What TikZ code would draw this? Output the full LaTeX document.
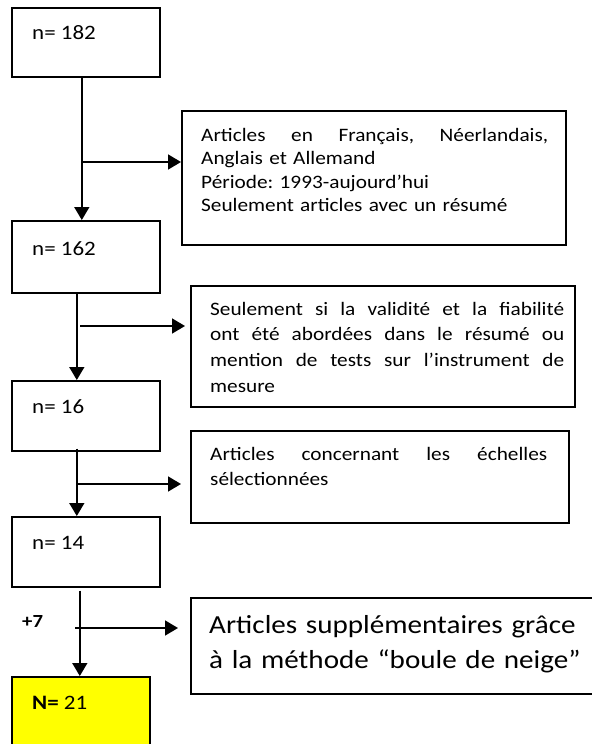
\documentclass[tikz,border=0pt]{standalone}
\usepackage{fontspec}
\setmainfont{Carlito}[FakeStretch=1.12]
\usepackage{tikz}
\usetikzlibrary{arrows.meta}
\definecolor{boxyellow}{RGB}{255,255,0}
\newcommand{\fullline}[2]{\makebox[#1][l]{#2}}
\frenchspacing

\begin{document}
\begin{tikzpicture}[x=1bp, y=-1bp,
    numbox/.style={draw, line width=1.6bp, anchor=north west, inner sep=0pt},
    exclbox/.style={draw, line width=1.6bp, anchor=north west, inner sep=0pt},
    numtxt/.style={anchor=base west, inner sep=0pt, font=\fontsize{20.5bp}{24bp}\selectfont},
    excltxt/.style={anchor=base west, inner sep=0pt, font=\fontsize{19bp}{23.5bp}\selectfont},
    flow/.style={line width=1.6bp, -{Triangle[length=13bp,width=15bp]}}]
    \useasboundingbox (0,0) rectangle (592,744);
    \clip (0,0) rectangle (592,744);

    % counts on the left
    \node[numbox, minimum width=148bp, minimum height=69bp] (n182) at (11,7) {};
    \node[numbox, minimum width=148bp, minimum height=72bp] (n162) at (11,220) {};
    \node[numbox, minimum width=148bp, minimum height=70bp] (n16) at (11,380) {};
    \node[numbox, minimum width=148bp, minimum height=70bp] (n14) at (11,516) {};
    \node[numbox, fill=boxyellow, minimum width=138bp, minimum height=90bp] (n21) at (11,676) {};

    \node[numtxt] (t182) at (32,40) {n= 182};
    \node[numtxt] (t162) at (32,255) {n= 162};
    \node[numtxt] (t16) at (32,413) {n= 16};
    \node[numtxt] (t14) at (32,549) {n= 14};
    \node[numtxt] (t21) at (32,709) {\textbf{N=} 21};
    \node[numtxt, font=\fontsize{18.5bp}{22bp}\selectfont\bfseries] (plus7) at (22,627) {+7};

    % criteria on the right
    \node[exclbox, minimum width=384bp, minimum height=134bp] (ex1) at (181,110) {};
    \node[exclbox, minimum width=384bp, minimum height=121bp] (ex2) at (190,285) {};
    \node[exclbox, minimum width=378bp, minimum height=92bp] (ex3) at (190,430) {};
    \node[exclbox, minimum width=415bp, minimum height=96bp] (ex4) at (190,597) {};

    \node[excltxt, text width=347bp] (tx1) at (201,141)
        {\fullline{347bp}{Articles\hfill en\hfill Français,\hfill Néerlandais,}\\
         Anglais et Allemand\\
         Période: 1993-aujourd’hui\\
         Seulement articles avec un résumé};
    \node[excltxt, text width=354bp, font=\fontsize{19bp}{25.7bp}\selectfont] (tx2) at (210,315)
        {\fullline{354bp}{Seulement\hfill si\hfill la\hfill validité\hfill et\hfill la\hfill fiabilité}\\
         \fullline{354bp}{ont\hfill été\hfill abordées\hfill dans\hfill le\hfill résumé\hfill ou}\\
         \fullline{354bp}{mention\hfill de\hfill tests\hfill sur\hfill l’instrument\hfill de}\\
         mesure};
    \node[excltxt, text width=337bp, font=\fontsize{19bp}{25bp}\selectfont] (tx3) at (210,460)
        {\fullline{337bp}{Articles\hfill concernant\hfill les\hfill échelles}\\
         sélectionnées};
    \node[excltxt, text width=380bp, align=left, font=\fontsize{26bp}{35bp}\selectfont] (tx4) at (209,633)
        {Articles supplémentaires grâce\\
         à la méthode “boule de neige”};

    % arrows down
    \draw[flow] ([xshift=-4bp]n182.south) -- ([xshift=-4bp]n162.north);
    \draw[flow] ([xshift=-9bp]n162.south) -- ([xshift=-9bp]n16.north);
    \draw[flow] ([xshift=-9bp,yshift=3bp]n16.south) -- ([xshift=-9bp]n14.north);
    \draw[flow] ([xshift=-6bp,yshift=-3bp]n14.south) -- ([xshift=-1bp]n21.north);

    % arrows out
    \coordinate (br1) at (81,162);
    \coordinate (br2) at (80,326);
    \coordinate (br3) at (76,484);
    \coordinate (br4) at (75,628);
    \draw[flow] (br1) -- (br1 -| ex1.west);
    \draw[flow, shorten >=5bp] (br2) -- (br2 -| ex2.west);
    \draw[flow, shorten >=9bp] (br3) -- (br3 -| ex3.west);
    \draw[flow, shorten >=12bp] (br4) -- (br4 -| ex4.west);
\end{tikzpicture}
\end{document}
